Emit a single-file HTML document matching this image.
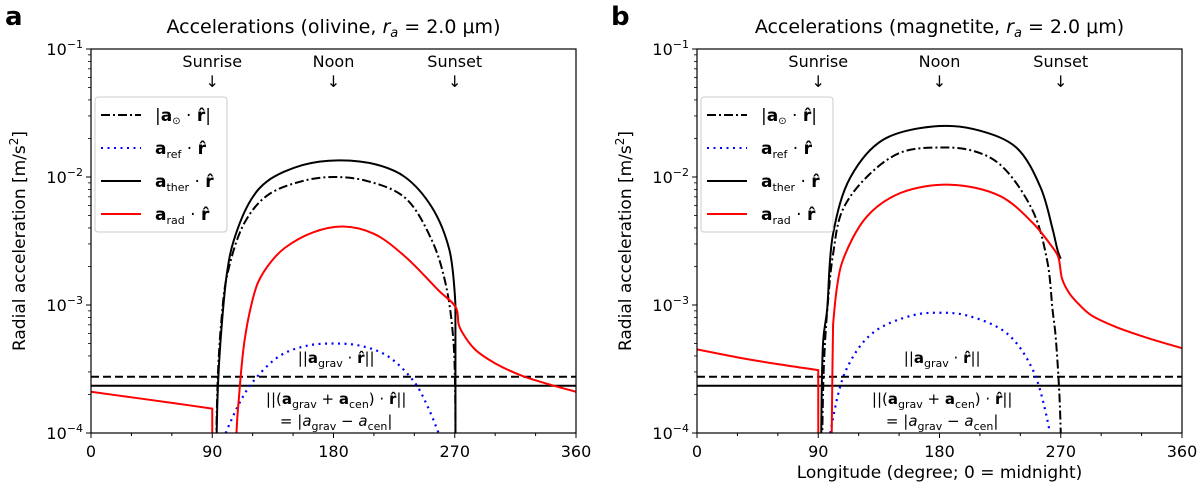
<!DOCTYPE html>
<html><head><meta charset="utf-8"><style>
html,body{margin:0;background:#fff;overflow:hidden;width:1200px;height:492px;}
svg{display:block;font-family:"DejaVu Sans","Liberation Sans",sans-serif;}
</style></head><body>
<svg id="fig" width="1200" height="492" viewBox="0 0 1200 492" xmlns="http://www.w3.org/2000/svg"></svg>
<script>
// ---- data (longitude in degrees, acceleration in m/s^2) ----
const hGravA = 2.75e-4, hNetA = 2.34e-4;
const aSunLonA = [92,94,97,101,114,131,157,180,205,233,253,263,269,270.5,270.6];
const aSunValA = [1e-5,2.5e-4,8e-4,1.7e-3,4.4e-3,7.2e-3,9.3e-3,1e-2,9.3e-3,6.9e-3,3.2e-3,1.5e-3,5.3e-4,1e-4,1e-6];
const aTherLonA = [92,94,96,101,106,119,131,157,184,212,233,253,266,270.5,270.6];
const aTherValA = [1e-5,2e-4,5e-4,1.8e-3,3.2e-3,6.7e-3,9.3e-3,1.24e-2,1.35e-2,1.25e-2,1e-2,5.8e-3,2.7e-3,1e-3,1e-6];
const aRadLonA = [0,30,60,90,90.1,107,108,110,112,114,118,124,134,144,165,187,210,233,258,271,273,276,285,300,320,340,360];
const aRadValA = [2.1e-4,1.9e-4,1.72e-4,1.55e-4,1e-6,1e-6,1e-4,2e-4,3.5e-4,5.3e-4,9e-4,1.5e-3,2.2e-3,2.8e-3,3.7e-3,4.1e-3,3.6e-3,2.4e-3,1.3e-3,9.5e-4,7e-4,6e-4,4.5e-4,3.5e-4,2.8e-4,2.4e-4,2.1e-4];
const aRefLonA = [100,110,120,140,160,180,200,220,240,250,258];
const aRefValA = [1e-4,1.7e-4,2.5e-4,4e-4,4.8e-4,5e-4,4.8e-4,4e-4,2.5e-4,1.6e-4,1e-4];

const hGravB = 2.75e-4, hNetB = 2.34e-4;
const aSunLonB = [92,94,97,101,108,126,151,180,205,225,249,260,264,266,269,270,270.1];
const aSunValB = [1e-5,3e-4,1e-3,2.5e-3,5.5e-3,1e-2,1.55e-2,1.7e-2,1.6e-2,1.25e-2,5.5e-3,2.2e-3,9e-4,6e-4,2e-4,1e-4,1e-6];
const aTherLonB = [92,93.7,96.5,101,114,138,180,210,237,255,264,268,270];
const aTherValB = [1e-5,5.3e-4,9e-4,3.6e-3,1e-2,1.95e-2,2.5e-2,2.3e-2,1.7e-2,8.3e-3,3.9e-3,2.6e-3,2.3e-3];
const aRadLonB = [0,30,60,90,90.1,99.5,100,100.5,101,104,108,126,151,188,225,249,262,268,271,276,282,292,310,335,360];
const aRadValB = [4.5e-4,3.9e-4,3.45e-4,3.1e-4,1e-6,1e-6,1e-4,3e-4,7e-4,1.4e-3,2.2e-3,4.9e-3,7.5e-3,8.7e-3,7.1e-3,4.4e-3,3e-3,2.4e-3,1.6e-3,1.25e-3,1.05e-3,8.4e-4,6.8e-4,5.5e-4,4.6e-4];
const aRefLonB = [99,110,130,160,180,200,230,250,262];
const aRefValB = [1e-4,3e-4,6e-4,8.3e-4,8.7e-4,8.3e-4,6e-4,3e-4,1e-4];

const xTicks = [0,90,180,270,360];
const yTickExp = [-4,-3,-2,-1];

const NS = "http://www.w3.org/2000/svg";
const svg = document.getElementById('fig');
function mk(tag, attrs, parent){const e=document.createElementNS(NS,tag);for(const k in attrs)e.setAttribute(k,attrs[k]);(parent||svg).appendChild(e);return e;}

// centripetal Catmull-Rom bezier segments for a run of points
function crRun(P){
  let s='';
  const n=P.length;
  const dist=(a,b)=>Math.pow(Math.hypot(a[0]-b[0],a[1]-b[1]),0.5);
  for(let i=0;i<n-1;i++){
    const p0=P[Math.max(i-1,0)], p1=P[i], p2=P[i+1], p3=P[Math.min(i+2,n-1)];
    const d1=dist(p0,p1), d2=dist(p1,p2), d3=dist(p2,p3);
    let b1, b2;
    if(d1<1e-6||d2<1e-6) b1=p1; else b1=[0,1].map(k=>(d1*d1*p2[k]-d2*d2*p0[k]+(2*d1*d1+3*d1*d2+d2*d2)*p1[k])/(3*d1*(d1+d2)));
    if(d3<1e-6||d2<1e-6) b2=p2; else b2=[0,1].map(k=>(d3*d3*p1[k]-d2*d2*p3[k]+(2*d3*d3+3*d3*d2+d2*d2)*p2[k])/(3*d3*(d3+d2)));
    s+=' C'+b1[0].toFixed(2)+' '+b1[1].toFixed(2)+' '+b2[0].toFixed(2)+' '+b2[1].toFixed(2)+' '+p2[0].toFixed(2)+' '+p2[1].toFixed(2);
  }
  return s;
}
// smooth runs, with straight jumps where longitude step is tiny
function smoothPath(lons, X, Y){
  const n=X.length;
  let s='M'+X[0].toFixed(2)+' '+Y[0].toFixed(2);
  let run=[[X[0],Y[0]]];
  for(let i=1;i<n;i++){
    if(lons[i]-lons[i-1] < 0.6){
      if(run.length>1) s+=crRun(run);
      s+=' L'+X[i].toFixed(2)+' '+Y[i].toFixed(2);
      run=[[X[i],Y[i]]];
    } else run.push([X[i],Y[i]]);
  }
  if(run.length>1) s+=crRun(run);
  return s;
}

function panel(p){
  const L=p.x0, R=p.x1, T=49, B=433;
  const xs = v => L + (v/360)*(R-L);
  const ys = v => T + (-1 - Math.log10(v))/3*(B-T);
  const g = mk('g',{});
  
  
  const cid='clip-'+p.id;
  const cp=mk('clipPath',{id:cid},g); mk('rect',{x:L,y:T,width:R-L,height:B-T},cp);
  const pg = mk('g',{'clip-path':'url(#'+cid+')'},g);
  function line(lons, vals, style, name){
    const d = smoothPath(lons, lons.map(xs), vals.map(v=>ys(Math.max(v,1e-6))));
    const e = mk('path',Object.assign({d:d,fill:'none'},style),pg);
    
    
  }
  const hd = mk('line',{x1:L,x2:R,y1:ys(p.hGrav),y2:ys(p.hGrav),stroke:'#000','stroke-width':2,'stroke-dasharray':'8,4'},pg);
  
  
  const hn = mk('line',{x1:L,x2:R,y1:ys(p.hNet),y2:ys(p.hNet),stroke:'#000','stroke-width':2},pg);
  
  
  line(p.refLon,p.refVal,{stroke:'#0000ff','stroke-width':2.2,'stroke-dasharray':'2,4.5'},'reflected-series');
  line(p.therLon,p.therVal,{stroke:'#000','stroke-width':2},'thermal-series');
  line(p.sunLon,p.sunVal,{stroke:'#000','stroke-width':2,'stroke-dasharray':'9,3,2,3'},'solar-series');
  line(p.radLon,p.radVal,{stroke:'#ff0000','stroke-width':2},'radiation-series');
  mk('rect',{x:L,y:T,width:R-L,height:B-T,fill:'none',stroke:'#000','stroke-width':1.2},g);
  for(let v=0; v<=360; v+=30){
    const major = v%90===0;
    mk('line',{x1:xs(v),x2:xs(v),y1:B,y2:B+(major?5:3),stroke:'#000','stroke-width':1},g);
  }
  xTicks.forEach(v=>{const t=mk('text',{x:xs(v),y:B+24,'text-anchor':'middle','font-size':16},g);t.textContent=v;
    });
  yTickExp.forEach(e=>{
    const y=ys(Math.pow(10,e));
    mk('line',{x1:L-5,x2:L,y1:y,y2:y,stroke:'#000'},g);
    const t=mk('text',{x:L-8,y:y+6,'text-anchor':'end','font-size':16},g);
    
    t.innerHTML='10<tspan dy="-7" font-size="11">−'+(-e)+'</tspan>';
    if(e<-1) for(let m=2;m<10;m++){const yy=ys(m*Math.pow(10,e));mk('line',{x1:L-3,x2:L,y1:yy,y2:yy,stroke:'#000','stroke-width':0.8},g);}
  });
  const yl=mk('text',{transform:`translate(${L-66},${(T+B)/2}) rotate(-90)`,'text-anchor':'middle','font-size':17},g);
  
  yl.innerHTML='Radial acceleration [m/s<tspan dy="-7" font-size="12">2</tspan><tspan dy="7">]</tspan>';
  const tt=mk('text',{x:(L+R)/2,y:33,'text-anchor':'middle','font-size':19},g);
  
  tt.innerHTML='Accelerations ('+p.mat+', <tspan font-style="italic">r</tspan><tspan font-style="italic" font-size="13" dy="4">a</tspan><tspan dy="-4"> = 2.0 μm)</tspan>';
  const pl=mk('text',{x:L-86,y:25,'font-size':26,'font-weight':'bold'},g);
  pl.textContent=p.letter;
  [['Sunrise',90],['Noon',180],['Sunset',270]].forEach(([n,v])=>{
    const t=mk('text',{x:xs(v),y:67,'text-anchor':'middle','font-size':16},g);t.textContent=n;
    
    mk('text',{x:xs(v),y:87,'text-anchor':'middle','font-size':16},g).textContent='↓';
  });
  const lg=mk('g',{},g);
  
  mk('rect',{x:L+4,y:97,width:132,height:135,rx:3,fill:'#fff',stroke:'#ccc'},lg);
  const items=[
    [{stroke:'#000','stroke-dasharray':'9,3,2,3'},'|<tspan font-weight="bold">a</tspan><tspan font-size="10" dy="3">⊙</tspan><tspan dy="-3"> · </tspan><tspan font-weight="bold">r̂</tspan>|'],
    [{stroke:'#0000ff','stroke-dasharray':'2,4.5'},'<tspan font-weight="bold">a</tspan><tspan font-size="11" dy="4">ref</tspan><tspan dy="-4"> · </tspan><tspan font-weight="bold">r̂</tspan>'],
    [{stroke:'#000'},'<tspan font-weight="bold">a</tspan><tspan font-size="11" dy="4">ther</tspan><tspan dy="-4"> · </tspan><tspan font-weight="bold">r̂</tspan>'],
    [{stroke:'#ff0000'},'<tspan font-weight="bold">a</tspan><tspan font-size="11" dy="4">rad</tspan><tspan dy="-4"> · </tspan><tspan font-weight="bold">r̂</tspan>']];
  items.forEach((it,i)=>{
    const y=115+i*33;
    const ln=mk('line',Object.assign({x1:L+10,x2:L+50,y1:y,y2:y,'stroke-width':2},it[0]),lg);
    
    const t=mk('text',{x:L+64,y:y+6,'font-size':17},lg);t.innerHTML=it[1];
    
  });
  const cx=xs(182);
  const a1=mk('text',{x:cx,y:363,'text-anchor':'middle','font-size':15},g);
  
  a1.innerHTML='||<tspan font-weight="bold">a</tspan><tspan font-size="11" dy="4">grav</tspan><tspan dy="-4"> · </tspan><tspan font-weight="bold">r̂</tspan>||';
  const a2=mk('text',{x:cx,y:404,'text-anchor':'middle','font-size':15},g);
  
  a2.innerHTML='||(<tspan font-weight="bold">a</tspan><tspan font-size="11" dy="4">grav</tspan><tspan dy="-4"> + </tspan><tspan font-weight="bold">a</tspan><tspan font-size="11" dy="4">cen</tspan><tspan dy="-4">) · </tspan><tspan font-weight="bold">r̂</tspan>||';
  const a3=mk('text',{x:cx,y:426,'text-anchor':'middle','font-size':15},g);
  
  a3.innerHTML='= |<tspan font-style="italic">a</tspan><tspan font-size="11" dy="4">grav</tspan><tspan dy="-4"> − </tspan><tspan font-style="italic">a</tspan><tspan font-size="11" dy="4">cen</tspan><tspan dy="-4">|</tspan>';
  if(p.xlabel){
    const xl=mk('text',{x:(L+R)/2,y:478,'text-anchor':'middle','font-size':17},g);
    xl.textContent='Longitude (degree; 0 = midnight)';
    
  }
}
panel({id:'olivine',letter:'a',mat:'olivine',x0:91,x1:576,hGrav:hGravA,hNet:hNetA,sunLon:aSunLonA,sunVal:aSunValA,therLon:aTherLonA,therVal:aTherValA,radLon:aRadLonA,radVal:aRadValA,refLon:aRefLonA,refVal:aRefValA,xlabel:false});
panel({id:'magnetite',letter:'b',mat:'magnetite',x0:697,x1:1182,hGrav:hGravB,hNet:hNetB,sunLon:aSunLonB,sunVal:aSunValB,therLon:aTherLonB,therVal:aTherValB,radLon:aRadLonB,radVal:aRadValB,refLon:aRefLonB,refVal:aRefValB,xlabel:true});
</script>
</body></html>
